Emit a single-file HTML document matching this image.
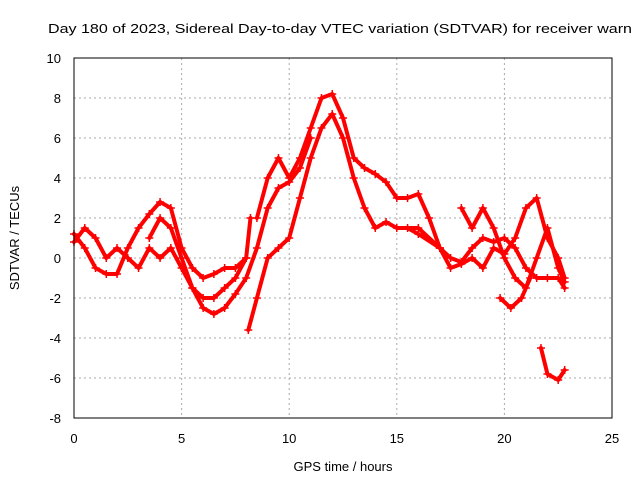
<!DOCTYPE html>
<html><head><meta charset="utf-8"><style>
body{margin:0;background:#fff}
svg text{font-family:"Liberation Sans",sans-serif;font-size:13px;fill:#000}
</style></head><body>
<svg width="640" height="480" id="c">
<rect width="640" height="480" fill="#fff"/>
<text x="48" y="33" textLength="584" lengthAdjust="spacingAndGlyphs">Day 180 of 2023, Sidereal Day-to-day VTEC variation (SDTVAR) for receiver warn</text>
<text x="343" y="471" text-anchor="middle">GPS time / hours</text>
<text transform="translate(19,238) rotate(-90)" text-anchor="middle">SDTVAR / TECUs</text>
<g id="grid"></g><g id="ticks"></g><g id="data"></g>
<rect x="74" y="58" width="538" height="360" fill="none" stroke="#000"/>
</svg>
<script>
const xTicks=[0,5,10,15,20,25];
const yTicks=[-8,-6,-4,-2,0,2,4,6,8,10];
const s1=[[8.1,-3.6],[8.5,-2],[9,0],[9.5,0.5],[10,1],[10.5,3],[11,5],[11.5,6.5],[12,7.2],[12.5,6],[13,4],[13.5,2.5],[14,1.5],[14.5,1.8],[15,1.5],[16,1.5],[17,0.5],[17.5,0],[18,-0.2],[18.5,0.5],[19,1],[19.5,0.8],[20,1],[20.5,0.5],[21,-0.5],[21.5,-1],[22,-1],[22.5,-1],[22.8,-1.5]];
const s2=[[8.5,2],[9,4],[9.5,5],[10,4],[10.5,5],[11,6.5],[11.5,8],[12,8.2],[12.5,7],[13,5],[13.5,4.5],[14,4.2],[14.5,3.8],[15,3],[15.5,3],[16,3.2],[16.5,2],[17,0.5]];
const s3=[[3.5,1],[4,2],[4.5,1.5],[5,0],[5.5,-1.5],[6,-2.5],[6.5,-2.8],[7,-2.5],[7.5,-1.8],[8,-1],[8.5,0.5],[9,2.5],[9.5,3.5],[10,3.8],[10.5,4.5],[11,6]];
const s4=[[0,1.2],[0.5,0.5],[1,-0.5],[1.5,-0.8],[2,-0.8],[2.5,0.5],[3,1.5],[3.5,2.2],[4,2.8],[4.5,2.5],[5,0.5],[5.5,-0.5],[6,-1],[6.5,-0.8],[7,-0.5],[7.5,-0.5],[8,0]];
const s5=[[0,0.8],[0.5,1.5],[1,1],[1.5,0],[2,0.5],[2.5,0],[3,-0.5],[3.5,0.5],[4,0],[4.5,0.5],[5,-0.5],[5.5,-1.5],[6,-2],[6.5,-2],[7,-1.5],[7.5,-1],[8,0],[8.2,2]];
const s6=[[15.5,1.5],[16,1.2],[17,0.5],[17.5,-0.5],[18,-0.3],[18.5,0],[19,-0.5],[19.5,0.5],[20,0.2],[20.5,1],[21,2.5],[21.5,3],[22,1],[22.5,0],[22.8,-1]];
const s7=[[18,2.5],[18.5,1.5],[19,2.5],[19.5,1.5],[20,0],[20.5,-1],[21,-1.5],[21.5,0],[22,1.5],[22.5,-0.5],[22.8,-1.2]];
const s8=[[19.8,-2],[20.3,-2.5],[20.8,-2],[21.2,-1]];
const s9=[[21.7,-4.5],[22,-5.8],[22.5,-6.1],[22.8,-5.6]];
const series=[s1,s2,s3,s4,s5,s6,s7,s8,s9];
const NS='http://www.w3.org/2000/svg';
const X=v=>74+v*538/25, Y=v=>258-v*20;
function mk(t,a,p){const e=document.createElementNS(NS,t);for(const k in a)e.setAttribute(k,a[k]);p.appendChild(e);return e;}
const g=document.getElementById('grid'),tk=document.getElementById('ticks'),d=document.getElementById('data');
xTicks.forEach(v=>{
 if(v>0&&v<25){const l=mk('line',{x1:X(v),x2:X(v),y1:58,y2:418,stroke:'#aaa','stroke-dasharray':'2,3'},g);
 
 }
 const t=mk('text',{x:X(v),y:443,'text-anchor':'middle'},tk);t.textContent=v;
 
 
});
yTicks.forEach(v=>{
 if(v>-8&&v<10){const l=mk('line',{x1:74,x2:612,y1:Y(v),y2:Y(v),stroke:'#aaa','stroke-dasharray':'2,3'},g);
 
 }
 const t=mk('text',{x:61,y:Y(v)+5,'text-anchor':'end'},tk);t.textContent=v;
 
 
});
series.forEach((s,i)=>{
 const p=mk('polyline',{points:s.map(q=>X(q[0])+','+Y(q[1])).join(' '),fill:'none',stroke:'#f00','stroke-width':4,'stroke-linejoin':'round','stroke-linecap':'round'},d);
 
 
 s.forEach(q=>{const x=X(q[0]),y=Y(q[1]);
  const m=mk('path',{d:`M${x-4},${y}h8M${x},${y-4}v8`,stroke:'#f00','stroke-width':1.5},d);
  
  });
});
</script>
</body></html>
